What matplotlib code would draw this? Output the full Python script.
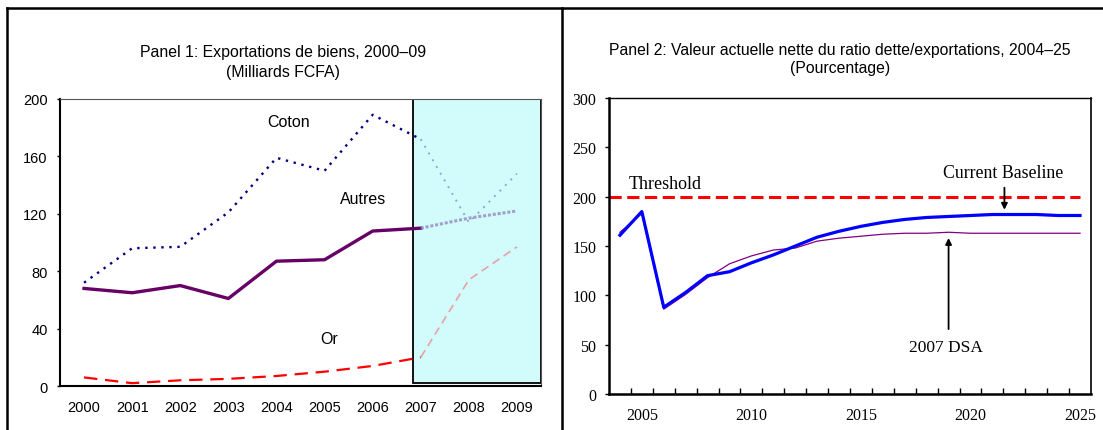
import numpy as np
import matplotlib.pyplot as plt
from matplotlib.lines import Line2D
from matplotlib.patches import Rectangle

# Panel 1: goods exports, billions FCFA (2008-09 are projections)
years1 = [2000, 2001, 2002, 2003, 2004, 2005, 2006, 2007, 2008, 2009]
coton = [72, 96, 97, 121, 159, 150, 189, 172, 114, 148]
autres = [68, 65, 70, 61, 87, 88, 108, 110, 117, 122]
gold = [6, 2, 4, 5, 7, 10, 14, 20, 74, 97]
proj_start = 2006.83

# Panel 2: NPV of debt-to-exports ratio, percent
years2 = list(range(2004, 2026))
baseline = [161, 185, 88, 103, 120, 124, 133, 141, 150, 159, 165, 170,
            174, 177, 179, 180, 181, 182, 182, 182, 181, 181]
dsa2007 = [164, 183, 86, 101, 118, 132, 140, 146, 148, 155, 158, 160,
           162, 163, 163, 164, 163, 163, 163, 163, 163, 163]
threshold = 200

sans = ['Liberation Sans', 'DejaVu Sans']
serif = ['Liberation Serif', 'DejaVu Serif']

fig = plt.figure(figsize=(11.03, 4.31), dpi=100)

# outer panel frames
fig.add_artist(Line2D([0.0063, 1.0], [0.979, 0.979], color='black', lw=1.8))
fig.add_artist(Line2D([0.0063, 0.0063], [0.0, 0.979], color='black', lw=1.8))
fig.add_artist(Line2D([0.5095, 0.5095], [0.0, 0.979], color='black', lw=1.8))

# ---- Panel 1 ----
ax1 = fig.add_axes([0.0544, 0.102, 0.4361, 0.666])
n_hist = years1.index(2007) + 1

ax1.plot(years1[:n_hist], coton[:n_hist], color='#000080', lw=1.7,
         linestyle=(0, (1, 2.4)), zorder=3)
ax1.plot(years1[:n_hist], autres[:n_hist], color='#660066', lw=2.4, zorder=3)
ax1.plot(years1[:n_hist], gold[:n_hist], color='#ff0000', lw=1.6,
         linestyle=(0, (6, 3.5)), zorder=3)

ax1.add_patch(Rectangle((proj_start, 2), 2009.5 - proj_start, 198,
                        facecolor='#d2fcfc', edgecolor='black', lw=1.3, zorder=2))

ax1.plot(years1[n_hist - 1:], coton[n_hist - 1:], color='#7080c8', lw=1.4,
         linestyle=(0, (1, 3)), alpha=0.7, zorder=4)
ax1.plot(years1[n_hist - 1:], autres[n_hist - 1:], color='#9a88bb', lw=2.2,
         linestyle=(0, (1, 0.6)), alpha=0.8, zorder=4)
ax1.plot(years1[n_hist - 1:], gold[n_hist - 1:], color='#f08a8a', lw=1.2,
         linestyle=(0, (5, 3)), alpha=0.8, zorder=4)

ax1.text(2004.25, 184, 'Coton', fontsize=11.5, family=sans, ha='center', va='center')
ax1.text(2005.8, 131, 'Autres', fontsize=11.5, family=sans, ha='center', va='center')
ax1.text(2005.1, 33, 'Or', fontsize=11.5, family=sans, ha='center', va='center')

ax1.set_xlim(1999.5, 2009.5)
ax1.set_ylim(0, 200)
ax1.set_xticks(years1)
ax1.set_xticklabels([str(y) for y in years1], family=sans, fontsize=10.5)
ax1.set_yticks([0, 40, 80, 120, 160, 200])
ax1.set_yticklabels(['0', '40', '80', '120', '160', '200'], family=sans, fontsize=10.5)
ax1.tick_params(axis='x', length=0, pad=10)
ax1.tick_params(axis='y', length=2.5, width=1, pad=6.5)
for side in ['left', 'bottom']:
    ax1.spines[side].set_linewidth(1.5)
ax1.spines['top'].set_linewidth(0.8)
ax1.spines['right'].set_linewidth(0.8)
ax1.spines['top'].set_color('#555555')
ax1.spines['right'].set_color('#555555')

fig.text(0.2566, 0.855, 'Panel 1: Exportations de biens, 2000\u201309\n(Milliards FCFA)',
         ha='center', va='center', fontsize=11.4, family=sans, linespacing=1.35)

# ---- Panel 2 ----
ax2 = fig.add_axes([0.5521, 0.0835, 0.4370, 0.6865])
ax2.axhline(threshold, xmin=0.0, xmax=0.978, color='#ff0000', lw=2.2,
            linestyle=(0, (4, 1.8)), zorder=2)
ax2.plot(years2, dsa2007, color='#800080', lw=0.9, zorder=3)
ax2.plot(years2, baseline, color='#0000ff', lw=2.3, zorder=4)

ax2.text(2004.4, 205, 'Threshold', fontsize=13, family=serif, ha='left', va='bottom')
ax2.text(2021.5, 225, 'Current Baseline', fontsize=12.8, family=serif,
         ha='center', va='center')
ax2.annotate('', xy=(2021.55, 184), xytext=(2021.55, 212),
             arrowprops=dict(arrowstyle='-|>', color='black', lw=1.3,
                             mutation_scale=9))
ax2.text(2018.9, 48, '2007 DSA', fontsize=12.5, family=serif, ha='center', va='center')
ax2.annotate('', xy=(2019.0, 161), xytext=(2019.0, 63),
             arrowprops=dict(arrowstyle='-|>', color='black', lw=1.3,
                             mutation_scale=9))

ax2.set_xlim(2003.5, 2025.5)
ax2.set_ylim(0, 300)
ax2.set_xticks([2005, 2010, 2015, 2020, 2025])
ax2.set_xticklabels(['2005', '2010', '2015', '2020', '2025'], family=serif, fontsize=11.5)
ax2.set_xticks(np.arange(2004.5, 2025.5, 1), minor=True)
ax2.set_yticks([0, 50, 100, 150, 200, 250, 300])
ax2.set_yticklabels(['0', '50', '100', '150', '200', '250', '300'],
                    family=serif, fontsize=11.5)
ax2.tick_params(axis='x', which='major', length=0, pad=9)
ax2.tick_params(axis='x', which='minor', direction='in', length=4, width=1)
ax2.tick_params(axis='y', length=3, width=1, pad=6)
for side in ['left', 'bottom']:
    ax2.spines[side].set_linewidth(1.8)
ax2.spines['top'].set_linewidth(1.0)
ax2.spines['right'].set_linewidth(1.2)

fig.text(0.7616, 0.862, 'Panel 2: Valeur actuelle nette du ratio dette/exportations, 2004\u201325\n(Pourcentage)',
         ha='center', va='center', fontsize=11.3, family=sans, linespacing=1.28)

plt.savefig('out.png', dpi=100)
plt.close()
